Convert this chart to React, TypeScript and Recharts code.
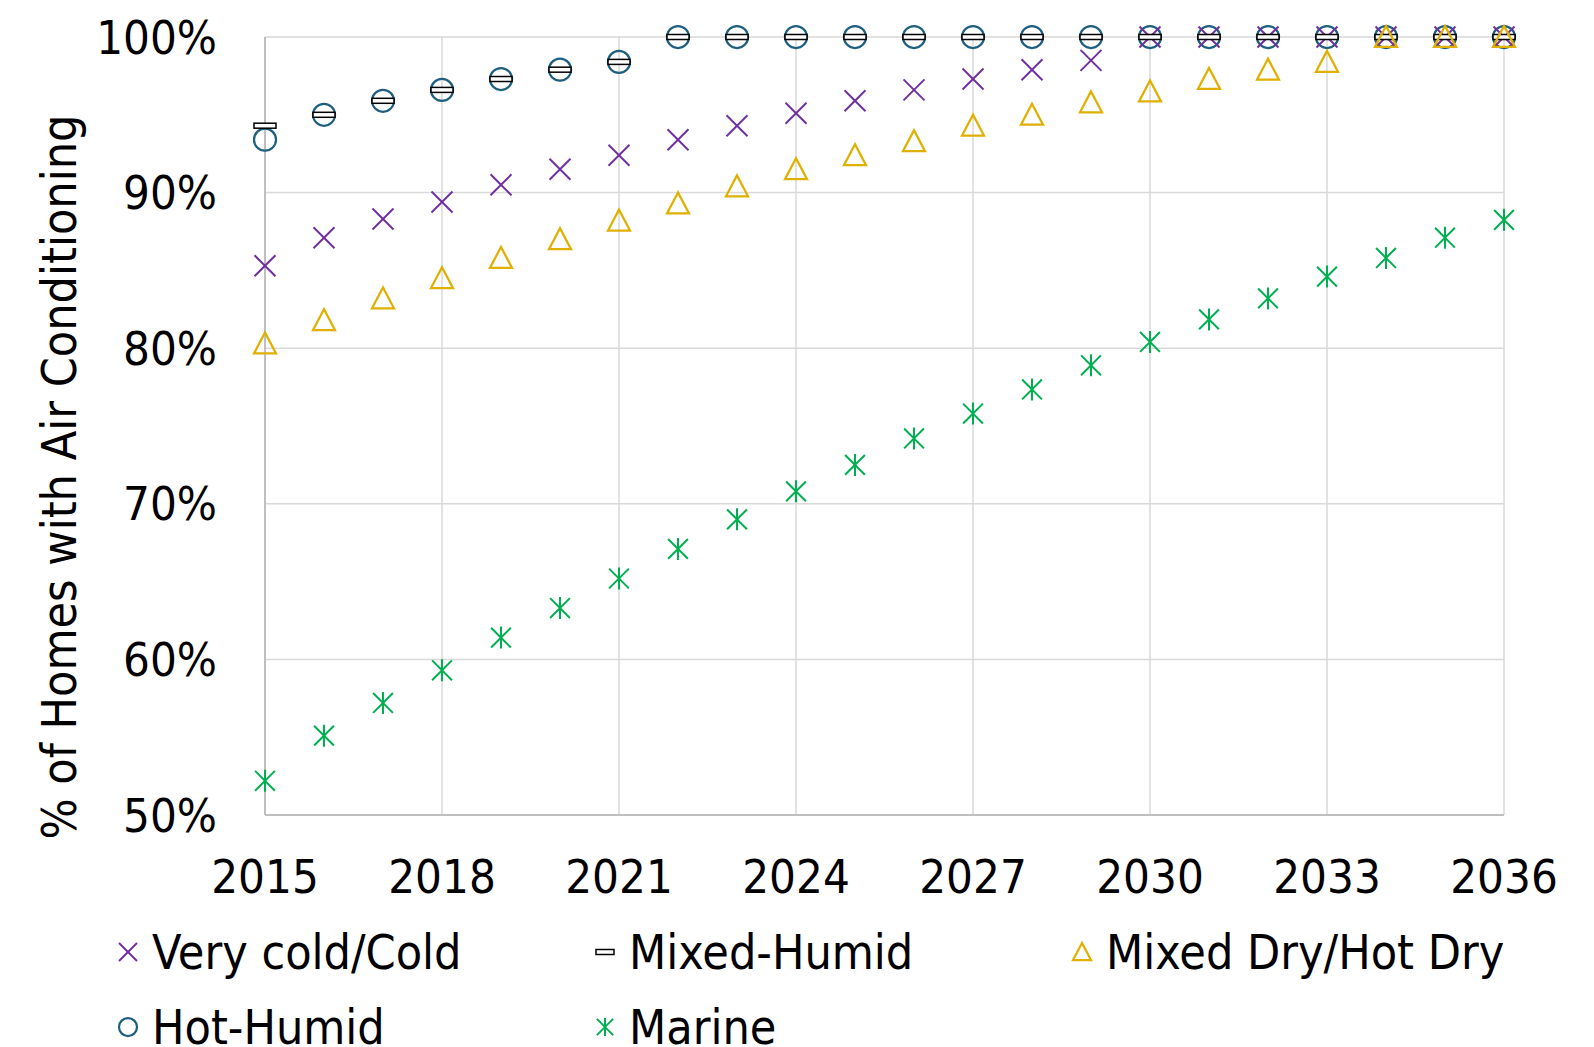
import React from 'react';
import { ScatterChart, Scatter, XAxis, YAxis, CartesianGrid } from 'recharts';

const years = [
  2015, 2016, 2017, 2018, 2019, 2020, 2021, 2022, 2023, 2024, 2025,
  2026, 2027, 2028, 2029, 2030, 2031, 2032, 2033, 2034, 2035, 2036,
];
const xTicks = [2015, 2018, 2021, 2024, 2027, 2030, 2033, 2036];
const yTicks = [50, 60, 70, 80, 90, 100];

// % of homes with AC, by climate zone
const veryCold = [
  85.3, 87.1, 88.3, 89.4, 90.5, 91.5, 92.4, 93.4, 94.3, 95.1, 95.9,
  96.6, 97.3, 97.9, 98.5, 100, 100, 100, 100, 100, 100, 100,
];
const mixedHumid = [
  94.3, 95.0, 95.9, 96.6, 97.3, 97.9, 98.4, 100, 100, 100, 100,
  100, 100, 100, 100, 100, 100, 100, 100, 100, 100, 100,
];
const mixedDry = [
  80.3, 81.8, 83.2, 84.5, 85.8, 87.0, 88.2, 89.3, 90.4, 91.5, 92.4,
  93.3, 94.3, 95.0, 95.8, 96.5, 97.3, 97.9, 98.4, 100, 100, 100,
];
const hotHumid = [
  93.4, 95.0, 95.9, 96.6, 97.3, 97.9, 98.4, 100, 100, 100, 100,
  100, 100, 100, 100, 100, 100, 100, 100, 100, 100, 100,
];
const marine = [
  52.2, 55.1, 57.2, 59.3, 61.4, 63.3, 65.2, 67.1, 69.0, 70.8, 72.5,
  74.2, 75.8, 77.35, 78.9, 80.4, 81.85, 83.2, 84.6, 85.8, 87.1, 88.25,
];

const PURPLE = '#7030a0';
const TEAL = '#1f5f7f';
const GOLD = '#dfb000';
const GREEN = '#00b050';
const FONT = "'DejaVu Sans Condensed', 'DejaVu Sans', sans-serif";

const toPoints = (vals: number[]) => years.map((x, i) => ({ x, y: vals[i] }));

type MarkerProps = { cx?: number; cy?: number; s?: number };

const Cross = ({ cx = 0, cy = 0, s = 10.5 }: MarkerProps) => (
  <g stroke={PURPLE} strokeWidth={2}>
    <line x1={cx - s} y1={cy - s} x2={cx + s} y2={cy + s} />
    <line x1={cx - s} y1={cy + s} x2={cx + s} y2={cy - s} />
  </g>
);

const Dash = ({ cx = 0, cy = 0, s = 11 }: MarkerProps) => (
  <rect x={cx - s} y={cy - 2.5} width={s * 2} height={5} fill="#fff" stroke="#000" strokeWidth={1.5} />
);

const Triangle = ({ cx = 0, cy = 0, s = 11 }: MarkerProps) => (
  <polygon
    points={`${cx},${cy - s} ${cx - s},${cy + s * 0.9} ${cx + s},${cy + s * 0.9}`}
    fill="none"
    stroke={GOLD}
    strokeWidth={2.25}
  />
);

const Circle = ({ cx = 0, cy = 0, s = 11 }: MarkerProps) => (
  <circle cx={cx} cy={cy} r={s} fill="none" stroke={TEAL} strokeWidth={2.25} />
);

const Asterisk = ({ cx = 0, cy = 0, s = 11 }: MarkerProps) => (
  <g stroke={GREEN} strokeWidth={2}>
    <line x1={cx} y1={cy - s} x2={cx} y2={cy + s} />
    <line x1={cx - s * 0.9} y1={cy - s * 0.9} x2={cx + s * 0.9} y2={cy + s * 0.9} />
    <line x1={cx - s * 0.9} y1={cy + s * 0.9} x2={cx + s * 0.9} y2={cy - s * 0.9} />
  </g>
);

const legendItems = [
  { name: 'Very cold/Cold', Icon: Cross, left: 117, top: 952 },
  { name: 'Mixed-Humid', Icon: Dash, left: 594, top: 952 },
  { name: 'Mixed Dry/Hot Dry', Icon: Triangle, left: 1071, top: 952 },
  { name: 'Hot-Humid', Icon: Circle, left: 117, top: 1027 },
  { name: 'Marine', Icon: Asterisk, left: 594, top: 1027 },
];

const tickStyle = { fontSize: 47, fill: '#000', fontFamily: FONT };

export default function App() {
  return (
    <div
      style={{
        position: 'absolute',
        left: 0,
        top: 0,
        width: 1594,
        height: 1047,
        background: '#fff',
        fontFamily: FONT,
        overflow: 'hidden',
      }}
    >
      <ScatterChart
        width={1594}
        height={1047}
        margin={{ top: 37, right: 90, bottom: 172, left: 65 }}
      >
        <CartesianGrid stroke="#d9d9d9" strokeWidth={1.5} />
        <XAxis
          type="number"
          dataKey="x"
          domain={[2015, 2036]}
          ticks={xTicks}
          interval={0}
          height={60}
          tick={tickStyle}
          tickLine={false}
          tickSize={0}
          tickMargin={45}
          axisLine={{ stroke: '#bfbfbf', strokeWidth: 2 }}
        />
        <YAxis
          type="number"
          dataKey="y"
          domain={[50, 100]}
          ticks={yTicks}
          interval={0}
          width={200}
          tick={tickStyle}
          tickLine={false}
          tickSize={0}
          tickMargin={48}
          tickFormatter={(v) => `${v}%`}
          axisLine={{ stroke: '#bfbfbf', strokeWidth: 2 }}
          label={{
            content: (props: any) => {
              const vb = props.viewBox || { x: 65, y: 37, height: 778 };
              const cx = vb.x - 6;
              const cy = vb.y + vb.height / 2 + 51;
              return (
                <text
                  x={cx}
                  y={cy}
                  transform={`rotate(-90, ${cx}, ${cy})`}
                  textAnchor="middle"
                  dominantBaseline="central"
                  fontSize={48}
                  fontFamily={FONT}
                  fill="#000"
                >
                  % of Homes with Air Conditioning
                </text>
              );
            },
          }}
        />
        <Scatter data={toPoints(hotHumid)} shape={(p: any) => <Circle cx={p.cx} cy={p.cy} />} isAnimationActive={false} />
        <Scatter data={toPoints(veryCold)} shape={(p: any) => <Cross cx={p.cx} cy={p.cy} />} isAnimationActive={false} />
        <Scatter data={toPoints(mixedHumid)} shape={(p: any) => <Dash cx={p.cx} cy={p.cy} />} isAnimationActive={false} />
        <Scatter data={toPoints(mixedDry)} shape={(p: any) => <Triangle cx={p.cx} cy={p.cy} />} isAnimationActive={false} />
        <Scatter data={toPoints(marine)} shape={(p: any) => <Asterisk cx={p.cx} cy={p.cy} />} isAnimationActive={false} />
      </ScatterChart>

      {/* Legend */}
      {legendItems.map(({ name, Icon, left, top }) => (
        <div
          key={name}
          style={{
            position: 'absolute',
            left,
            top: top - 30,
            height: 60,
            display: 'flex',
            alignItems: 'center',
            fontSize: 48,
            color: '#000',
            whiteSpace: 'nowrap',
          }}
        >
          <svg width={22} height={24} style={{ overflow: 'visible' }}>
            <Icon cx={11} cy={12} s={9} />
          </svg>
          <span style={{ marginLeft: 13 }}>{name}</span>
        </div>
      ))}
    </div>
  );
}
